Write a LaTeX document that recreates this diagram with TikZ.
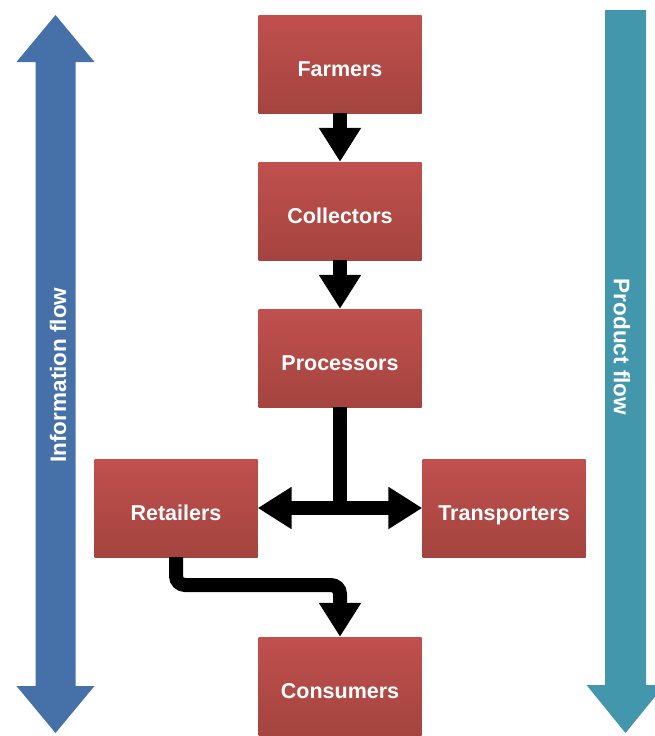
\documentclass[tikz,border=0pt]{standalone}
\usepackage{fontspec}
\setmainfont{Liberation Sans}
\usetikzlibrary{arrows.meta,calc}
\definecolor{boxtop}{HTML}{C0504D}
\definecolor{boxbot}{HTML}{A4443F}
\definecolor{infoblue}{HTML}{4671A8}
\definecolor{prodteal}{HTML}{4397AD}
\tikzset{
  stage/.style={rectangle, minimum width=163pt, minimum height=98pt, inner sep=0pt,
    top color=boxtop, bottom color=boxbot, draw=none,
    text height=25pt, text depth=0pt,
    text=white, font=\bfseries\fontsize{21.5pt}{24pt}\selectfont},
  flowlabel/.style={text=white, inner sep=0pt, font=\bfseries\fontsize{22.5pt}{26pt}\selectfont},
  conn/.style={draw=black, line width=14pt,
    -{Triangle[width=40pt,length=34pt]}},
  bothconn/.style={draw=black, line width=14pt,
    {Triangle[width=40pt,length=34pt]}-{Triangle[width=40pt,length=34pt]}},
}
\begin{document}
\begin{tikzpicture}[x=1pt,y=-1pt]
\useasboundingbox (0,0) rectangle (655,736);
\clip (0,0) rectangle (655,736);

% information flow: double-headed vertical arrow on the left
\fill[infoblue] (55.5,15) -- (94.5,62) -- (75.5,62) -- (75.5,686) -- (94.5,686)
  -- (55.5,733) -- (16.5,686) -- (35.5,686) -- (35.5,62) -- (16.5,62) -- cycle;
\node[flowlabel, rotate=90] (info) at (58,375) {Information flow};

% product flow: downward arrow on the right
\fill[prodteal] (605,10) -- (646,10) -- (646,685) -- (664.5,685)
  -- (625.5,733) -- (586.5,685) -- (605,685) -- cycle;
\node[flowlabel, rotate=-90] (prod) at (622,347) {Product flow};

% supply chain stages
\node[stage] (farm)  at (340,64)  {Farmers};
\node[stage] (coll)  at (340,211) {Collectors};
\node[stage] (proc)  at (340,358) {Processors};
\node[stage] (ret)   at (176,508) {Retailers};
\node[stage] (trans) at (504,508) {Transporters};
\node[stage] (cons)  at (340,686) {Consumers};

% connectors
\draw[conn] (farm.south) -- (coll.north);
\draw[conn] (coll.south) -- (proc.north);
\draw[draw=black, line width=14pt] (proc.south) -- ($(proc.south |- ret.east)+(0,7)$);
\draw[bothconn] (ret.east) -- (trans.west);
\coordinate (elbow) at (250,585);
\draw[conn, rounded corners=9pt] (ret.south) |- (elbow) -| (cons.north);
\end{tikzpicture}
\end{document}
